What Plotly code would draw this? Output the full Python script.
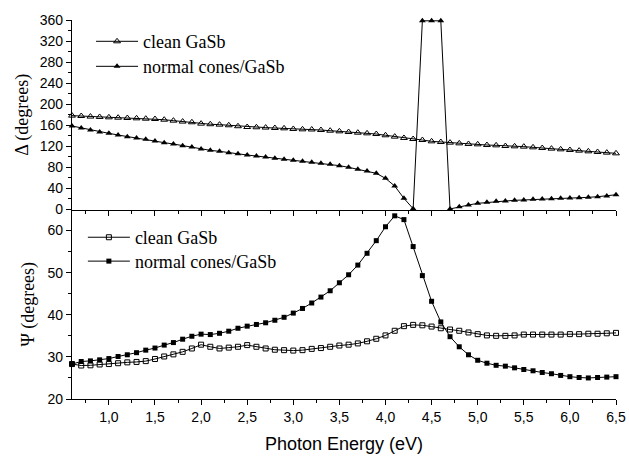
import plotly.graph_objects as go

energy = [0.6, 0.7, 0.8, 0.9, 1.0, 1.1, 1.2, 1.3, 1.4, 1.5,
          1.6, 1.7, 1.8, 1.9, 2.0, 2.1, 2.2, 2.3, 2.4, 2.5,
          2.6, 2.7, 2.8, 2.9, 3.0, 3.1, 3.2, 3.3, 3.4, 3.5,
          3.6, 3.7, 3.8, 3.9, 4.0, 4.1, 4.2, 4.3, 4.4, 4.5,
          4.6, 4.7, 4.8, 4.9, 5.0, 5.1, 5.2, 5.3, 5.4, 5.5,
          5.6, 5.7, 5.8, 5.9, 6.0, 6.1, 6.2, 6.3, 6.4, 6.5]

delta_clean = [178.3, 177.6, 176.5, 175.8, 175.1, 174.4, 173.8, 173.2, 172.5, 171.9,
               170.6, 168.8, 167.0, 165.7, 163.1, 162.0, 161.2, 160.0, 158.2, 156.7,
               156.2, 155.6, 154.8, 154.2, 153.0, 152.3, 152.0, 151.0, 149.7, 148.5,
               147.2, 145.9, 144.7, 143.4, 141.0, 138.4, 135.9, 133.9, 132.0, 129.5,
               128.2, 127.0, 125.7, 124.5, 123.8, 122.5, 121.9, 120.6, 120.0, 119.4,
               118.1, 116.8, 115.6, 114.3, 113.1, 111.8, 110.5, 109.3, 108.0, 106.7]

delta_normal = [158.6, 154.8, 151.0, 147.2, 144.7, 141.5, 138.4, 135.8, 133.3, 130.1,
                127.0, 124.4, 121.3, 118.7, 114.9, 112.4, 110.5, 107.9, 106.0, 103.5,
                101.6, 99.7, 97.2, 95.3, 93.4, 91.5, 89.6, 87.7, 85.8, 83.3,
                80.1, 76.3, 73.1, 68.7, 59.2, 44.6, 21.2, 1.5, 358.5, 358.5,
                358.5, 1.0, 5.4, 8.5, 11.7, 13.6, 15.5, 16.1, 17.4, 18.0,
                19.3, 19.9, 20.6, 21.2, 21.8, 22.5, 23.1, 24.3, 25.8, 28.0]

psi_clean = [28.3, 27.95, 28.0, 28.2, 28.3, 28.5, 28.7, 28.8, 29.0, 29.5,
             30.1, 30.6, 31.2, 32.0, 32.9, 32.4, 32.0, 32.2, 32.4, 32.8,
             32.4, 32.0, 31.7, 31.6, 31.5, 31.6, 31.9, 32.1, 32.4, 32.7,
             32.9, 33.2, 33.7, 34.3, 35.1, 36.2, 37.3, 37.6, 37.5, 37.2,
             36.8, 36.5, 36.2, 35.8, 35.4, 35.1, 35.0, 35.0, 35.1, 35.3,
             35.3, 35.3, 35.3, 35.3, 35.4, 35.4, 35.5, 35.5, 35.6, 35.7]

psi_normal = [28.3, 28.9, 29.05, 29.3, 29.6, 30.1, 30.5, 31.0, 31.6, 32.1,
              32.8, 33.4, 34.2, 34.9, 35.4, 35.3, 35.6, 36.1, 36.8, 37.3,
              37.7, 38.1, 38.7, 39.4, 40.4, 41.5, 42.8, 44.2, 45.7, 47.6,
              49.5, 51.8, 54.6, 57.6, 60.9, 63.5, 62.6, 56.2, 49.3, 43.2,
              38.3, 34.8, 32.4, 30.5, 29.2, 28.5, 28.0, 27.8, 27.4, 27.0,
              26.7, 26.3, 26.0, 25.6, 25.3, 25.1, 25.0, 25.1, 25.2, 25.3]

labels = ["clean GaSb", "normal cones/GaSb"]

SERIF = "Liberation Serif, Times New Roman, Times, serif"
SANS = "Liberation Sans, Arial, Helvetica, sans-serif"

fig = go.Figure()
line = dict(color="black", width=1)

fig.add_trace(go.Scatter(x=energy, y=delta_clean, name=labels[0], mode="lines+markers",
                         xaxis="x2", yaxis="y2", line=line, cliponaxis=False,
                         marker=dict(symbol="triangle-up-open", size=6, color="black",
                                     line=dict(width=1, color="black")),
                         legend="legend"))
fig.add_trace(go.Scatter(x=energy, y=delta_normal, name=labels[1], mode="lines+markers",
                         xaxis="x2", yaxis="y2", line=line, cliponaxis=False,
                         marker=dict(symbol="triangle-up", size=6, color="black"),
                         legend="legend2"))
fig.add_trace(go.Scatter(x=energy, y=psi_clean, name=labels[0], mode="lines+markers",
                         xaxis="x", yaxis="y", line=line, cliponaxis=False,
                         marker=dict(symbol="square-open", size=5, color="black",
                                     line=dict(width=1, color="black")),
                         legend="legend3"))
fig.add_trace(go.Scatter(x=energy, y=psi_normal, name=labels[1], mode="lines+markers",
                         xaxis="x", yaxis="y", line=line, cliponaxis=False,
                         marker=dict(symbol="square", size=5, color="black"),
                         legend="legend4"))

tickfont = dict(family=SANS, size=14, color="black")
common_x = dict(range=[0.6, 6.5], tick0=0, dtick=0.5, ticks="outside", ticklen=5,
                tickwidth=1, tickcolor="black", showline=True, linecolor="black",
                linewidth=1.3, showgrid=False, zeroline=False, tickformat=".1f",
                tickfont=tickfont, automargin=False,
                minor=dict(ticks="outside", ticklen=3, dtick=0.25, tickcolor="black",
                           showgrid=False))
common_y = dict(ticks="outside", ticklen=5, tickwidth=1, tickcolor="black",
                showline=True, linecolor="black", linewidth=1.3, showgrid=False,
                zeroline=False, tickfont=tickfont, automargin=False)

def leg(x, y):
    return dict(x=x, y=y, xanchor="left", yanchor="middle", bgcolor="rgba(0,0,0,0)",
                font=dict(family=SERIF, size=18, color="black"), itemwidth=42,
                tracegroupgap=0)

fig.update_layout(
    width=629, height=457,
    margin=dict(l=72, r=13, t=20, b=58),
    paper_bgcolor="white", plot_bgcolor="white",
    separators=", ",
    font=dict(family=SANS, color="black"),
    xaxis=dict(domain=[0, 1], anchor="y",
               title=dict(text="Photon Energy (eV)", font=dict(family=SANS, size=18, color="black"),
                          standoff=13),
               **common_x),
    xaxis2=dict(domain=[0, 1], anchor="y2", matches="x", showticklabels=False, **common_x),
    yaxis=dict(domain=[0, 0.5], anchor="x", range=[20, 65], tick0=0, dtick=10,
               minor=dict(ticks="outside", ticklen=3, dtick=5, tickcolor="black", showgrid=False),
               title=dict(text="Ψ (degrees)", font=dict(family=SERIF, size=18, color="black"),
                          standoff=8),
               **common_y),
    yaxis2=dict(domain=[0.5, 1], anchor="x2", range=[0, 360], tick0=0, dtick=40,
                minor=dict(ticks="outside", ticklen=3, dtick=20, tickcolor="black", showgrid=False),
                title=dict(text="Δ (degrees)", font=dict(family=SERIF, size=18, color="black"),
                           standoff=6),
                **common_y),
    legend=leg(0.035, 0.943),
    legend2=leg(0.035, 0.877),
    legend3=leg(0.02, 0.426),
    legend4=leg(0.02, 0.363),
    showlegend=True,
)

fig.write_html("out.html")
